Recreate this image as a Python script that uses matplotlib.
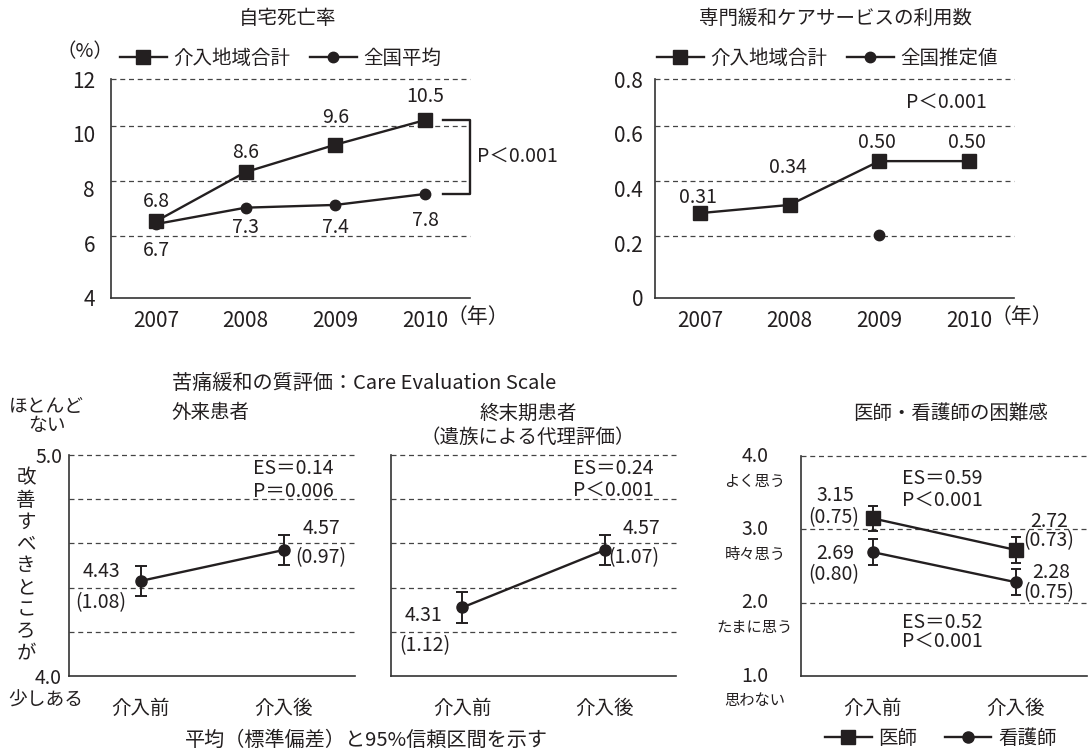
import numpy as np
import matplotlib.pyplot as plt
import matplotlib.transforms as mtransforms

INK = '#231f20'
NARROW = ['Liberation Sans Narrow', 'Noto Sans CJK JP']
plt.rcParams['font.family'] = ['Noto Sans CJK JP', 'DejaVu Sans']
plt.rcParams['font.size'] = 14
plt.rcParams['text.color'] = INK
plt.rcParams['xtick.color'] = INK
plt.rcParams['ytick.color'] = INK

# top row: home death rate / specialist palliative care use
years = ['2007', '2008', '2009', '2010']
home_region = [6.8, 8.6, 9.6, 10.5]
home_national = [6.7, 7.3, 7.4, 7.8]
pcu_region = [0.31, 0.34, 0.50, 0.50]
pcu_national = [np.nan, np.nan, 0.23, np.nan]

# bottom row: before / after intervention
phases = ['介入前', '介入後']
out_mean = [4.43, 4.57]
out_sd = [1.08, 0.97]
out_ci = [0.068, 0.068]
end_mean = [4.31, 4.57]
end_sd = [1.12, 1.07]
end_ci = [0.068, 0.068]
doc_mean = [3.15, 2.72]
doc_sd = [0.75, 0.73]
doc_ci = [0.17, 0.18]
nurse_mean = [2.69, 2.28]
nurse_sd = [0.80, 0.75]
nurse_ci = [0.18, 0.18]

W, H = 1090, 751
fig = plt.figure(figsize=(W / 100, H / 100), dpi=100)


def add_ax(l, t, r, b):
    ax = fig.add_axes([l / W, 1 - b / H, (r - l) / W, (b - t) / H])
    ax.set_facecolor('none')
    for s in ('top', 'right'):
        ax.spines[s].set_visible(False)
    for s in ('left', 'bottom'):
        ax.spines[s].set_color('#333333')
        ax.spines[s].set_linewidth(1.2)
    ax.tick_params(length=0)
    return ax


def ftext(x, y, s, **kw):
    kw.setdefault('va', 'center')
    fig.text(x / W, 1 - y / H, s, **kw)


def dashed(ax, ys):
    for y in ys:
        ax.axhline(y, color='#444444', lw=0.9, ls=(0, (4, 3)), zorder=1, clip_on=False)


def vlabel(ax, x, y, s, dx, dy, ha='center'):
    ax.annotate(s, (x, y), xytext=(dx, dy), textcoords='offset pixels',
                ha=ha, va='center', fontsize=14)


def legend(ax, handles, labels, x, y, col_gap=1.0):
    ax.legend(handles, labels, loc='center left', bbox_to_anchor=(x / W, 1 - y / H),
              bbox_transform=fig.transFigure, ncol=2, frameon=False, fontsize=14,
              handlelength=2.4, handletextpad=0.35, columnspacing=col_gap,
              borderpad=0, borderaxespad=0, numpoints=1)


line_kw = dict(color=INK, lw=1.7, clip_on=False)
xs = np.arange(len(years))

# --- 自宅死亡率 ---
ax1 = add_ax(111, 79, 470, 298)
ax1.set_xlim(-0.5, 3.5)
ax1.set_ylim(4, 12)
ax1.set_yticks([4, 6, 8, 10, 12])
ax1.set_yticklabels(['4', '6', '8', '10', '12'], family=NARROW, fontsize=15)
ax1.set_xticks(xs)
ax1.set_xticklabels(years, family=NARROW, fontsize=15)
ax1.tick_params(axis='y', pad=11.5)
ax1.tick_params(axis='x', pad=8.3)
dashed(ax1, [12] + [v + 0.27 for v in (6, 8, 10)])
nat1, = ax1.plot(xs, home_national, marker='o', ms=7.5, zorder=3, **line_kw)
reg1, = ax1.plot(xs, home_region, marker='s', ms=9.5, zorder=4, **line_kw)
reg_dy = [20, 20, 27, 24]
nat_dy = [-26, -20, -23, -27]
for i, v in enumerate(home_region):
    vlabel(ax1, xs[i], v, f'{v:.1f}', 0, reg_dy[i])
for i, v in enumerate(home_national):
    vlabel(ax1, xs[i], v, f'{v:.1f}', 0, nat_dy[i])
br = mtransforms.blended_transform_factory(ax1.transAxes, ax1.transData)
ax1.plot([0.925, 1, 1, 0.925],
         [home_region[-1], home_region[-1], home_national[-1], home_national[-1]],
         transform=br, **line_kw)
ax1.text(1.019, (home_region[-1] + home_national[-1]) / 2, 'P＜0.001',
         transform=br, ha='left', va='center')
ax1.annotate('（年）', xy=(3, 0), xycoords=ax1.get_xaxis_transform(), xytext=(21, -19),
             textcoords='offset pixels', ha='left', va='center', fontsize=15)
legend(ax1, [reg1, nat1], ['介入地域合計', '全国平均'], 120, 58)
ftext(288, 18, '自宅死亡率', ha='center')
ftext(85, 52, '（%）', ha='center')

# --- 専門緩和ケアサービスの利用数 ---
ax2 = add_ax(655, 79, 1014, 298)
ax2.set_xlim(-0.5, 3.5)
ax2.set_ylim(0, 0.8)
ax2.set_yticks([0, 0.2, 0.4, 0.6, 0.8])
ax2.set_yticklabels(['0', '0.2', '0.4', '0.6', '0.8'], fontsize=15)
ax2.set_xticks(xs)
ax2.set_xticklabels(years, family=NARROW, fontsize=15)
ax2.tick_params(axis='y', pad=8.6)
ax2.tick_params(axis='x', pad=8.3)
dashed(ax2, [0.8] + [v + 0.027 for v in (0.2, 0.4, 0.6)])
nat2, = ax2.plot(xs, pcu_national, marker='o', ms=7.5, zorder=3, **line_kw)
reg2, = ax2.plot(xs, pcu_region, marker='s', ms=9.5, zorder=4, **line_kw)
pcu_dy = [16, 37, 19, 19]
for i, v in enumerate(pcu_region):
    vlabel(ax2, xs[i], v, f'{v:.2f}', -2, pcu_dy[i])
ax2.text(0.813, 0.89, 'P＜0.001', transform=ax2.transAxes, ha='center', va='center')
ax2.annotate('（年）', xy=(3, 0), xycoords=ax2.get_xaxis_transform(), xytext=(21, -19),
             textcoords='offset pixels', ha='left', va='center', fontsize=15)
legend(ax2, [reg2, nat2], ['介入地域合計', '全国推定値'], 657, 58)
ftext(835, 18, '専門緩和ケアサービスの利用数', ha='center')

# --- Care Evaluation Scale ---
px = np.arange(len(phases))
err_kw = dict(color=INK, lw=1.7, elinewidth=1.4, capthick=1.4, clip_on=False)


def ces_axes(l, r):
    ax = add_ax(l, 455, r, 676)
    ax.set_xlim(-0.5, 1.5)
    ax.set_ylim(4, 5)
    ax.set_xticks(px)
    ax.set_xticklabels(phases, fontsize=14)
    ax.tick_params(axis='x', pad=16)
    dashed(ax, [4.2, 4.4, 4.6, 4.8, 5.0])
    return ax


ax3 = ces_axes(69, 355)
ax3.set_yticks([4, 5])
ax3.set_yticklabels(['4.0', '5.0'], fontsize=14)
ax3.tick_params(axis='y', pad=5)
ax3.errorbar(px, out_mean, yerr=out_ci, fmt='-o', ms=8, capsize=4.3, zorder=3, **err_kw)
vlabel(ax3, 0, out_mean[0], f'{out_mean[0]:.2f}', -20, 9, ha='right')
vlabel(ax3, 0, out_mean[0], f'({out_sd[0]:.2f})', -14, -22, ha='right')
vlabel(ax3, 1, out_mean[1], f'{out_mean[1]:.2f}', 19, 22, ha='left')
vlabel(ax3, 1, out_mean[1], f'({out_sd[1]:.2f})', 12, -8, ha='left')
ax3.text(0.643, 0.941, 'ES＝0.14', transform=ax3.transAxes, va='center')
ax3.text(0.643, 0.837, 'P＝0.006', transform=ax3.transAxes, va='center')

ax4 = ces_axes(391, 676)
ax4.set_yticks([])
ax4.errorbar(px, end_mean, yerr=end_ci, fmt='-o', ms=8, capsize=4.3, zorder=3, **err_kw)
vlabel(ax4, 0, end_mean[0], f'{end_mean[0]:.2f}', -20, -8, ha='right')
vlabel(ax4, 0, end_mean[0], f'({end_sd[0]:.2f})', -12, -38, ha='right')
vlabel(ax4, 1, end_mean[1], f'{end_mean[1]:.2f}', 18, 22, ha='left')
vlabel(ax4, 1, end_mean[1], f'({end_sd[1]:.2f})', 4, -8, ha='left')
ax4.text(0.639, 0.941, 'ES＝0.24', transform=ax4.transAxes, va='center')
ax4.text(0.639, 0.837, 'P＜0.001', transform=ax4.transAxes, va='center')

ftext(172, 383, '苦痛緩和の質評価：Care Evaluation Scale', ha='left', fontsize=14.5)
ftext(210, 413, '外来患者', ha='center')
ftext(528, 413, '終末期患者', ha='center')
ftext(528, 437, '（遺族による代理評価）', ha='center')
ftext(46, 406, 'ほとんど', ha='center', fontsize=13.5)
ftext(47, 426, 'ない', ha='center', fontsize=13.5)
ftext(46, 700, '少しある', ha='center', fontsize=13.5)
ftext(26, 566, '\n'.join('改善すべきところが'), ha='center', linespacing=1.06)
ftext(185, 740, '平均（標準偏差）と95%信頼区間を示す', ha='left', fontsize=14.5)

# --- 医師・看護師の困難感 ---
ax5 = add_ax(801, 456, 1087, 676)
ax5.set_xlim(-0.5, 1.5)
ax5.set_ylim(1, 4)
ax5.set_xticks(px)
ax5.set_xticklabels(phases, fontsize=14)
ax5.tick_params(axis='x', pad=16)
ax5.set_yticks([])
dashed(ax5, [2, 3, 4])
nur = ax5.errorbar(px, nurse_mean, yerr=nurse_ci, fmt='-o', ms=8, capsize=3.6, zorder=3, **err_kw)
doc = ax5.errorbar(px, doc_mean, yerr=doc_ci, fmt='-s', ms=9.5, capsize=3.6, zorder=4, **err_kw)
scale = ['思わない', 'たまに思う', '時々思う', 'よく思う']
ytr = ax5.get_yaxis_transform()
for v, s in zip([1, 2, 3, 4], scale):
    ax5.text(-0.161, v, f'{v:.1f}', transform=ytr, ha='center', va='center')
    ax5.annotate(s, xy=(-0.161, v), xycoords=ytr, xytext=(0, -25),
                 textcoords='offset pixels', ha='center', va='center', fontsize=11)
vlabel(ax5, 0, doc_mean[0], f'{doc_mean[0]:.2f}', -18, 23, ha='right')
vlabel(ax5, 0, doc_mean[0], f'({doc_sd[0]:.2f})', -13, 1, ha='right')
vlabel(ax5, 0, nurse_mean[0], f'{nurse_mean[0]:.2f}', -18, -1, ha='right')
vlabel(ax5, 0, nurse_mean[0], f'({nurse_sd[0]:.2f})', -13, -23, ha='right')
vlabel(ax5, 1, doc_mean[1], f'{doc_mean[1]:.2f}', 15, 28, ha='left')
vlabel(ax5, 1, doc_mean[1], f'({doc_sd[1]:.2f})', 8, 9, ha='left')
vlabel(ax5, 1, nurse_mean[1], f'{nurse_mean[1]:.2f}', 17, 10, ha='left')
vlabel(ax5, 1, nurse_mean[1], f'({nurse_sd[1]:.2f})', 8, -10, ha='left')
ax5.text(0.353, 0.896, 'ES＝0.59', transform=ax5.transAxes, va='center')
ax5.text(0.353, 0.796, 'P＜0.001', transform=ax5.transAxes, va='center')
ax5.text(0.353, 0.244, 'ES＝0.52', transform=ax5.transAxes, va='center')
ax5.text(0.353, 0.154, 'P＜0.001', transform=ax5.transAxes, va='center')
legend(ax5, [doc.lines[0], nur.lines[0]], ['医師', '看護師'], 825, 738, col_gap=1.4)
ftext(951, 413, '医師・看護師の困難感', ha='center')

fig.savefig('out.png', dpi=100)
